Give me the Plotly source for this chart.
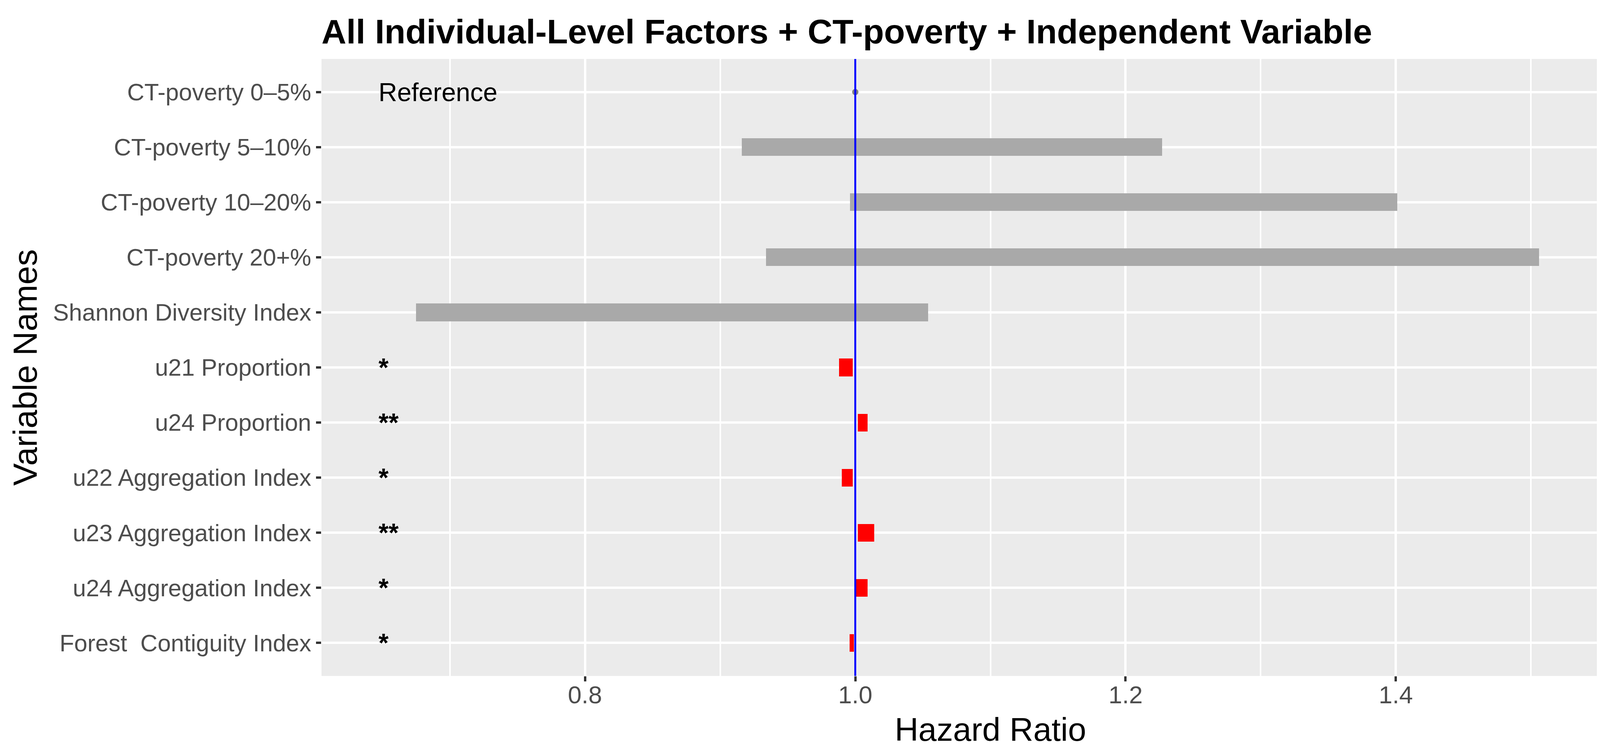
import plotly.graph_objects as go

# hazard ratio confidence intervals
names = [
    "CT-poverty 0–5%",
    "CT-poverty 5–10%",
    "CT-poverty 10–20%",
    "CT-poverty 20+%",
    "Shannon Diversity Index",
    "u21 Proportion",
    "u24 Proportion",
    "u22 Aggregation Index",
    "u23 Aggregation Index",
    "u24 Aggregation Index",
    "Forest\u00a0 Contiguity Index",
]
lower = [1.0, 0.916, 0.996, 0.934, 0.675, 0.988, 1.002, 0.990, 1.002, 1.0005, 0.9957]
upper = [1.0, 1.227, 1.401, 1.506, 1.054, 0.998, 1.009, 0.998, 1.014, 1.009, 0.999]
stars = ["", "", "", "", "", "*", "**", "*", "**", "*", "*"]
ref_name = names[0]
ref_hr = 1.0
label_x = 0.65
x_ticks = [0.8, 1.0, 1.2, 1.4]
x_minor = [0.7, 0.9, 1.1, 1.3, 1.5]

font = "Liberation Sans, Arial, sans-serif"

colors = ["#FF0000" if (lo > 1 or hi < 1) else "#A9A9A9" for lo, hi in zip(lower, upper)]

fig = go.Figure()
fig.add_trace(go.Bar(
    y=names[1:], base=lower[1:],
    x=[hi - lo for lo, hi in zip(lower[1:], upper[1:])],
    orientation="h", width=0.32,
    marker=dict(color=colors[1:], line=dict(width=0)),
    showlegend=False,
))
fig.add_trace(go.Scatter(
    x=[ref_hr], y=[ref_name], mode="markers",
    marker=dict(color="#808080", size=16),
    showlegend=False,
))

fig.add_annotation(x=label_x, y=ref_name, text="Reference", showarrow=False,
                   xanchor="left", yanchor="middle", xshift=-12,
                   font=dict(family=font, size=66, color="black"))
for n, s in zip(names, stars):
    if s:
        fig.add_annotation(x=label_x, y=n, text="<b>" + s + "</b>", showarrow=False,
                           xanchor="left", yanchor="middle", xshift=-12,
                           font=dict(family=font, size=66, color="black"))

fig.add_vline(x=1.0, line=dict(color="#0000FF", width=5), layer="above")

fig.update_layout(
    width=4310, height=1936,
    margin=dict(l=815, r=70, t=143, b=213),
    paper_bgcolor="white", plot_bgcolor="#EBEBEB",
    bargap=0,
    title=dict(text="<b>All Individual-Level Factors + CT-poverty + Independent Variable</b>",
               x=0, xref="paper", xanchor="left",
               y=1 - 72 / 1936, yref="container", yanchor="middle",
               font=dict(family=font, size=88, color="black")),
    font=dict(family=font),
)
fig.update_xaxes(
    range=[0.605, 1.595], tickvals=x_ticks, tickformat=".1f",
    showgrid=True, gridcolor="white", gridwidth=6,
    minor=dict(tickvals=x_minor, showgrid=True, gridcolor="white", gridwidth=3.5, ticks=""),
    ticks="outside", ticklen=13, tickwidth=6, tickcolor="#333333",
    ticklabelstandoff=-20,
    tickfont=dict(family=font, size=63, color="#4D4D4D"),
    zeroline=False, showline=False,
    title=dict(text="Hazard Ratio", font=dict(family=font, size=84, color="black"), standoff=25),
)
fig.update_yaxes(
    type="category", categoryorder="array", categoryarray=names,
    range=[10.6, -0.6],
    showgrid=True, gridcolor="white", gridwidth=6,
    ticks="outside", ticklen=13, tickwidth=6, tickcolor="#333333",
    tickfont=dict(family=font, size=61, color="#4D4D4D"),
    zeroline=False, showline=False,
    title=dict(text="Variable Names", font=dict(family=font, size=86, color="black"), standoff=12),
)

fig.write_html("out.html")
